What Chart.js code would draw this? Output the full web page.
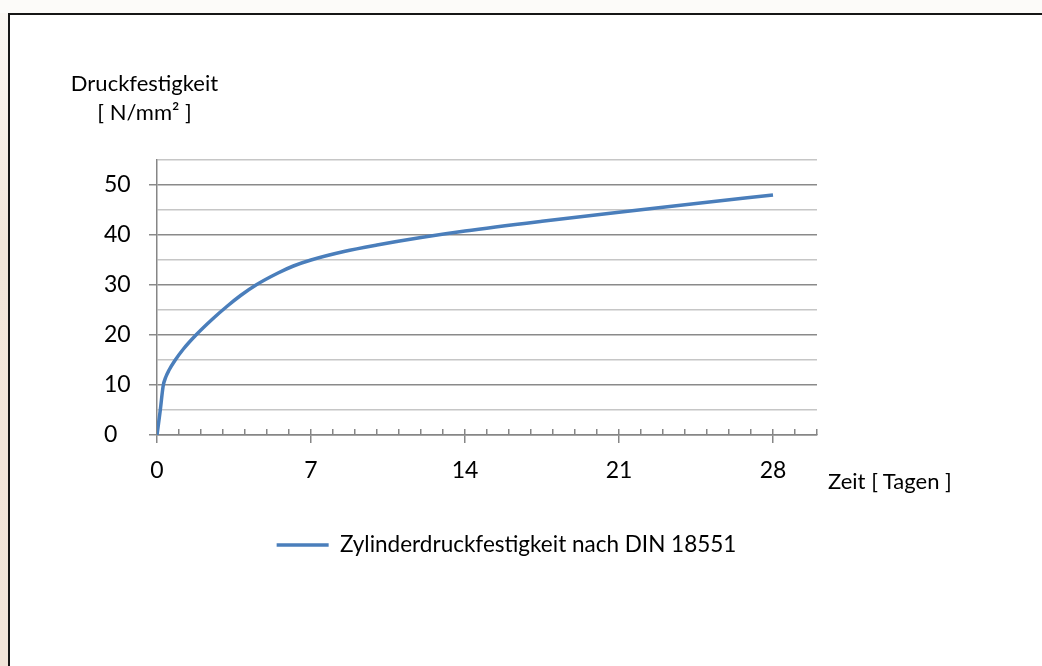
<!DOCTYPE html>
<html><head><meta charset="utf-8">
<script src="https://cdn.jsdelivr.net/npm/chart.js@4"></script>
<style>
html,body{margin:0;padding:0;}
body{width:1042px;height:666px;position:relative;overflow:hidden;background:#fcfbf9;font-family:Lato,sans-serif;}
#strip{position:absolute;left:0;top:13px;width:8px;height:653px;background:linear-gradient(#faf7f3,#f2e6da 35%,#f1e4d8);}
#frame{position:absolute;left:8px;top:13px;width:1100px;height:700px;border-left:2px solid #161616;border-top:2px solid #161616;background:#fff;}
#c{position:absolute;left:0;top:0;}
.t{position:absolute;font-size:22px;line-height:22px;color:#000;white-space:nowrap;}
</style></head>
<body>
<div id="strip"></div>
<div id="frame"></div>
<canvas id="c" width="1042" height="666"></canvas>
<div class="t" id="yt1" style="left:44.5px;top:71.5px;width:200px;text-align:center;"></div>
<div class="t" id="yt2" style="left:44.5px;top:100.5px;width:200px;text-align:center;"></div>
<div class="t" id="xt" style="left:828px;top:470px;"></div>
<script>
// ---- data ----
const days     = [0, 0.15, 0.28, 0.4, 0.55, 0.8, 1.2, 1.75, 2.5, 3.2, 3.8, 4.5, 5.5, 6.2, 7, 8.5, 10, 12, 14, 17.5, 21, 24.5, 28];
const strength = [0, 5, 9.8, 11.6, 13.0, 14.8, 17.2, 19.9, 23.1, 25.8, 27.9, 30, 32.4, 33.8, 35.0, 36.7, 38.0, 39.5, 40.8, 42.75, 44.55, 46.3, 48];
const seriesLabel = 'Zylinderdruckfestigkeit nach DIN 18551';
const yTitleLines = ['Druckfestigkeit', '[ N/mm² ]'];
const xTitle = 'Zeit [ Tagen ]';
const xMin = 0, xMax = 30, xMajorStep = 7, xMinorStep = 1;
const yMin = 0, yMax = 55, yStep = 5, yLabelStep = 10;

document.getElementById('yt1').textContent = yTitleLines[0];
document.getElementById('yt2').textContent = yTitleLines[1];
document.getElementById('xt').textContent = xTitle;

Chart.defaults.font.family = 'Lato';
Chart.defaults.color = '#000';
const tickFont = {family: 'Lato', size: 23};
const legendFont = {family: 'Lato', size: 22.5};
const axisGray = '#868686';
const majorGrid = '#8a8a8a';
const minorGrid = '#c6c6c6';

new Chart(document.getElementById('c'), {
  type: 'scatter',
  data: {
    datasets: [{
      label: seriesLabel,
      data: days.map((d, i) => ({x: d, y: strength[i]})),
      xAxisID: 'x', yAxisID: 'y',
      showLine: true,
      borderColor: '#4a7ebb',
      backgroundColor: '#4a7ebb',
      borderWidth: 3.5,
      pointRadius: 0, pointHoverRadius: 0,
      cubicInterpolationMode: 'monotone',
      fill: false
    }]
  },
  options: {
    responsive: false,
    animation: false,
    events: [],
    layout: {padding: {left: 104, right: 133, top: 160, bottom: 99.75}},
    plugins: {
      tooltip: {enabled: false},
      legend: {
        position: 'bottom',
        labels: {
          usePointStyle: true, pointStyle: 'line', pointStyleWidth: 52,
          padding: 38.75, font: legendFont, color: '#000'
        }
      }
    },
    scales: {
      x: {
        type: 'linear', position: 'bottom', min: xMin, max: xMax,
        afterFit: s => { s.height = 60; },
        ticks: {stepSize: xMajorStep, includeBounds: false, padding: 13.5, font: tickFont, color: '#000', maxRotation: 0, autoSkip: false},
        grid: {drawOnChartArea: false, tickLength: 8, color: axisGray, lineWidth: 1.5},
        border: {display: true, color: axisGray, width: 1.5}
      },
      x2: {
        type: 'linear', position: 'bottom', weight: -1, min: xMin, max: xMax,
        afterFit: s => { s.height = 0; },
        ticks: {display: false, stepSize: xMinorStep, autoSkip: false},
        grid: {drawOnChartArea: false, tickLength: -6, color: axisGray, lineWidth: 1.5},
        border: {display: false}
      },
      y: {
        type: 'linear', position: 'left', min: yMin, max: yMax,
        afterFit: s => { s.width = 53; },
        ticks: {stepSize: yStep, crossAlign: 'far', autoSkip: false, font: tickFont, color: '#000',
          callback: v => (v % yLabelStep === 0 ? v : '')},
        grid: {
          color: c => (c.tick && c.tick.value % yLabelStep === 0 ? majorGrid : minorGrid),
          tickColor: c => (c.tick && c.tick.value % yLabelStep === 0 ? majorGrid : 'rgba(0,0,0,0)'),
          tickLength: 8, lineWidth: 1.5
        },
        border: {color: axisGray, width: 1.5}
      },
      yR: {
        type: 'linear', position: 'right',
        afterFit: s => { s.width = 92; },
        ticks: {display: false}, grid: {display: false}, border: {display: false}
      }
    }
  }
});
</script>
</body></html>
